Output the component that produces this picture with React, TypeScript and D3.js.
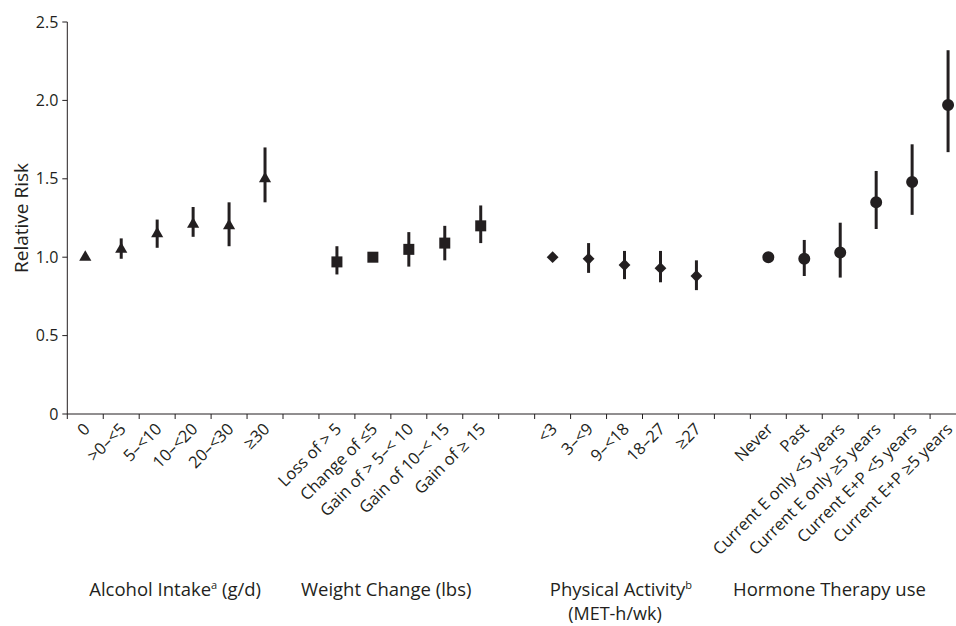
import React from "react"
import * as d3 from "d3"

// values
const alcoholCats = ["0", ">0–<5", "5–<10", "10–<20", "20–<30", "≥30"]
const alcoholRR = [1.0, 1.05, 1.15, 1.21, 1.2, 1.5]
const alcoholLo = [null, 0.99, 1.06, 1.13, 1.07, 1.35]
const alcoholHi = [null, 1.12, 1.24, 1.32, 1.35, 1.7]

const weightCats = ["Loss of > 5", "Change of ≤5", "Gain of > 5–< 10", "Gain of 10–< 15", "Gain of ≥ 15"]
const weightRR = [0.97, 1.0, 1.05, 1.09, 1.2]
const weightLo = [0.89, null, 0.94, 0.98, 1.09]
const weightHi = [1.07, null, 1.16, 1.2, 1.33]

const activityCats = ["<3", "3–<9", "9–<18", "18–27", "≥27"]
const activityRR = [1.0, 0.99, 0.95, 0.93, 0.88]
const activityLo = [null, 0.9, 0.86, 0.84, 0.79]
const activityHi = [null, 1.09, 1.04, 1.04, 0.98]

const hormoneCats = ["Never", "Past", "Current E only <5 years", "Current E only ≥5 years", "Current E+P <5 years", "Current E+P ≥5 years"]
const hormoneRR = [1.0, 0.99, 1.03, 1.35, 1.48, 1.97]
const hormoneLo = [null, 0.88, 0.87, 1.18, 1.27, 1.67]
const hormoneHi = [null, 1.11, 1.22, 1.55, 1.72, 2.32]

const yTicks = [0, 0.5, 1.0, 1.5, 2.0, 2.5]

const groups = [
  { title: "Alcohol Intake", sup: "a", rest: " (g/d)", line2: "", cats: alcoholCats, rr: alcoholRR, lo: alcoholLo, hi: alcoholHi, shape: "triangle", labelAt: 3.0 },
  { title: "Weight Change (lbs)", sup: "", rest: "", line2: "", cats: weightCats, rr: weightRR, lo: weightLo, hi: weightHi, shape: "square", labelAt: 1.87 },
  { title: "Physical Activity", sup: "b", rest: "", line2: "(MET-h/wk)", cats: activityCats, rr: activityRR, lo: activityLo, hi: activityHi, shape: "diamond", labelAt: 2.4 },
  { title: "Hormone Therapy use", sup: "", rest: "", line2: "", cats: hormoneCats, rr: hormoneRR, lo: hormoneLo, hi: hormoneHi, shape: "circle", labelAt: 2.2 },
]

const W = 956
const H = 626
const ink = "#231f20"
const font = "'Open Sans', 'Noto Sans', sans-serif"

const App = () => {
  // slots: every category plus one empty slot between groups
  const slots: string[] = []
  const startSlot: number[] = []
  groups.forEach((g, gi) => {
    if (gi > 0) slots.push("gap" + gi)
    startSlot.push(slots.length)
    g.cats.forEach((c) => slots.push(g.title + "|" + c))
  })

  const left = 67.3
  const step = 35.95
  const x = d3.scaleBand<string>().domain(slots).range([left, left + step * slots.length]).padding(0)
  const y = d3.scaleLinear().domain([0, 2.5]).range([414, 22])

  const symbols: Record<string, string | null> = {
    triangle: d3.symbol(d3.symbolTriangle, 64)(),
    square: d3.symbol(d3.symbolSquare, 121)(),
    diamond: d3.symbol(d3.symbolSquare, 70)(),
    circle: d3.symbol(d3.symbolCircle, 113)(),
  }

  const xAxisY = y(0)
  const bw = x.bandwidth()

  return (
    <svg width={W} height={H} style={{ position: "absolute", left: 0, top: 0, background: "#fff" }} fontFamily={font}>
      {/* y axis */}
      <line x1={left} x2={left} y1={y(2.5)} y2={xAxisY} stroke={ink} strokeWidth={1} />
      {yTicks.map((t) => (
        <g key={t} transform={`translate(0,${y(t)})`}>
          <line x1={left - 5} x2={left} stroke={ink} strokeWidth={1} />
          <text x={left - 9} dy="0.35em" textAnchor="end" fontSize={16} fill={ink}>
            {t === 0 ? "0" : d3.format(".1f")(t)}
          </text>
        </g>
      ))}
      <text transform={`translate(28,${y(1.25)}) rotate(-90)`} textAnchor="middle" fontSize={19} fill={ink}>
        Relative Risk
      </text>

      {/* x axis */}
      <line x1={left} x2={left + step * slots.length} y1={xAxisY} y2={xAxisY} stroke={ink} strokeWidth={1} />
      {d3.range(slots.length + 1).map((i) => (
        <line key={i} x1={left + i * step} x2={left + i * step} y1={xAxisY} y2={xAxisY + 5} stroke={ink} strokeWidth={1} />
      ))}

      {groups.map((g, gi) => (
        <g key={g.title}>
          {g.cats.map((c, ci) => {
            const cx = (x(g.title + "|" + c) ?? 0) + bw / 2
            const lo = g.lo[ci]
            const hi = g.hi[ci]
            return (
              <g key={c}>
                {lo != null && hi != null && (
                  <line x1={cx} x2={cx} y1={y(lo)} y2={y(hi)} stroke={ink} strokeWidth={3} />
                )}
                <path
                  d={symbols[g.shape] ?? ""}
                  transform={`translate(${cx},${y(g.rr[ci])})${g.shape === "diamond" ? " rotate(45)" : ""}`}
                  fill={ink}
                />
                <text
                  transform={`translate(${cx + 1.5},${xAxisY + 12}) rotate(-45)`}
                  textAnchor="end"
                  dy="0.35em"
                  fontSize={16.5}
                  fill={ink}
                >
                  {c}
                </text>
              </g>
            )
          })}
          <text
            x={left + (startSlot[gi] + g.labelAt) * step}
            y={596}
            textAnchor="middle"
            fontSize={18.5}
            fill={ink}
          >
            {g.title}
            {g.sup && (
              <tspan fontSize={11} dy={-7}>
                {g.sup}
              </tspan>
            )}
            {g.rest && <tspan dy={7}>{g.rest}</tspan>}
          </text>
          {g.line2 && (
            <text x={left + (startSlot[gi] + g.labelAt) * step - 6} y={620} textAnchor="middle" fontSize={18} fill={ink}>
              {g.line2}
            </text>
          )}
        </g>
      ))}
    </svg>
  )
}

export default App
